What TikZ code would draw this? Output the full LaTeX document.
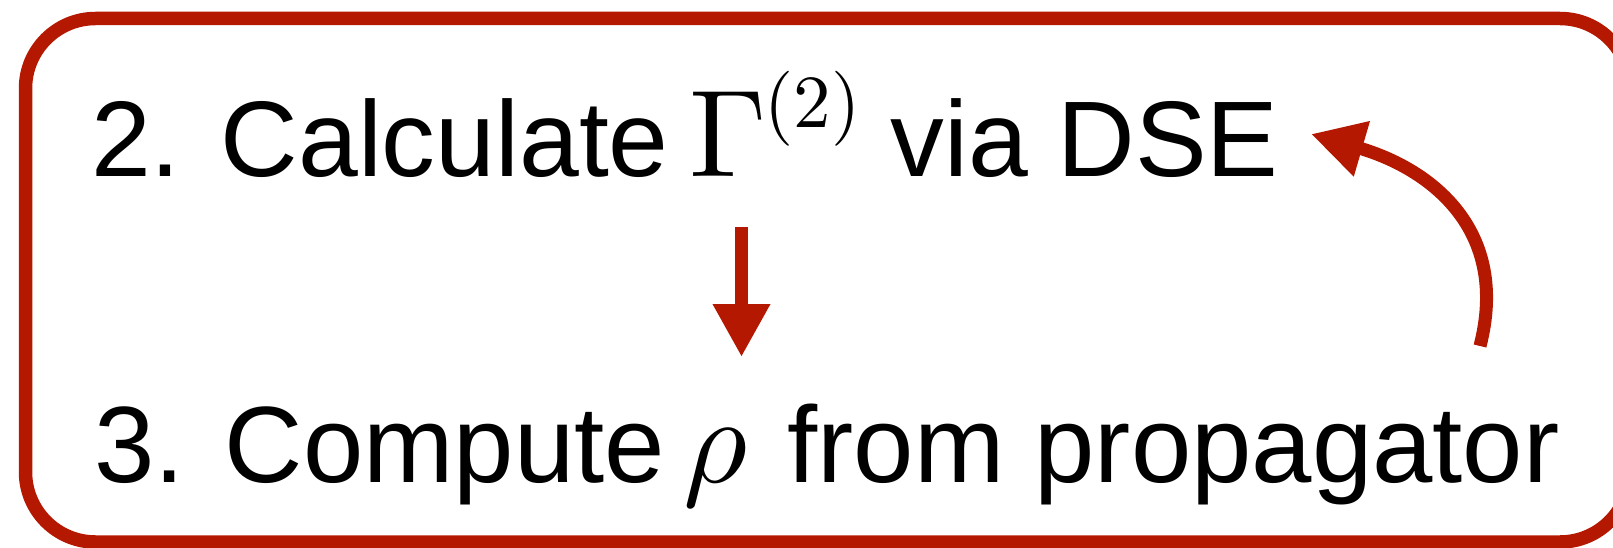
\documentclass[tikz,border=0pt]{standalone}
\usepackage{fontspec}
\setmainfont{Liberation Sans}
\usetikzlibrary{arrows.meta}
\definecolor{frameRed}{RGB}{181,24,0}
\newcommand{\mth}[2]{{\fontsize{10}{12}\selectfont\scalebox{#1}{$#2$}}}
\tikzset{
  frame/.style={draw=frameRed, line width=13.5pt, rounded corners=70pt},
  lbl/.style={inner sep=0pt, anchor=base west, text=black},
  redarrow/.style={draw=frameRed, line width=13pt, -{Triangle[width=54pt,length=53pt]}}
}
\begin{document}
\begin{tikzpicture}[x=1pt,y=-1pt]
  \useasboundingbox (0,0) rectangle (1613,548);
  \clip (0,0) rectangle (1613,548);
  \draw[frame] (25.5,18.5) rectangle (1630,542);
  \node[lbl, font=\fontsize{107.5}{120}\selectfont] (s2) at (91,177) {2. Calculate\kern-9.5pt{} \mth{12.4}{\Gamma}\kern-2pt\raisebox{49pt}{\mth{7.5}{(2)}} via DSE};
  \node[lbl, font=\fontsize{108.5}{120}\selectfont] (s3) at (94,482) {3. Compute\kern-12pt{} \mth{12.4}{\rho}\kern10pt{} from propagator};
  \coordinate (d1) at (741.5,227);
  \coordinate (d2) at (741.5,357);
  \draw[redarrow] (d1) -- (d2);
  \coordinate (c1) at (1480,346);
  \coordinate (c2) at (1311,134);
  \draw[redarrow] (c1) .. controls (1510,230) and (1431,169) .. (c2);
\end{tikzpicture}
\end{document}
